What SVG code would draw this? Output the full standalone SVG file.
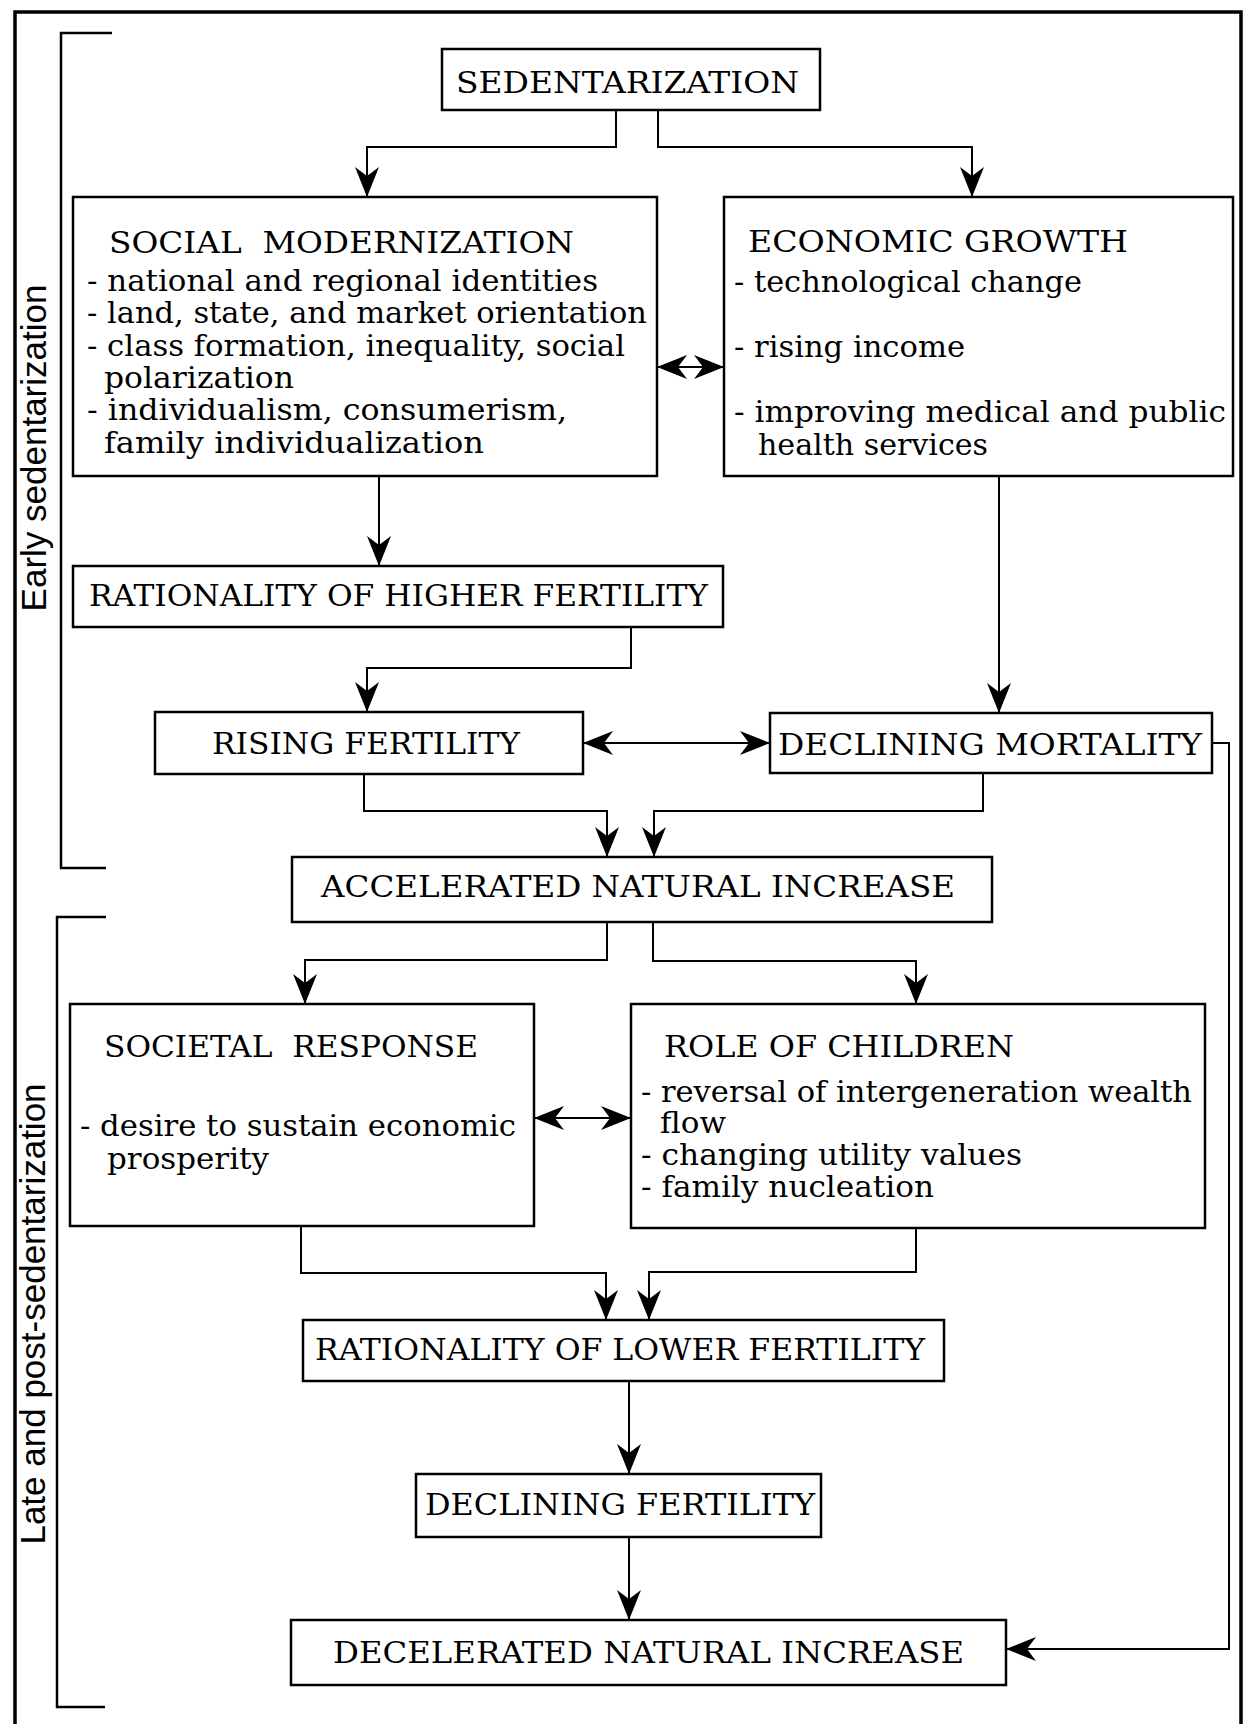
<svg xmlns="http://www.w3.org/2000/svg" width="1249" height="1724" viewBox="0 0 1249 1724">
<style>
.box{fill:#fff;stroke:#000;stroke-width:2.5}
.t{font-family:"DejaVu Serif","Liberation Serif",serif;font-size:29px;fill:#000}
.h{font-size:30px}
.c{text-anchor:middle}
.conn{fill:none;stroke:#000;stroke-width:2}
.frame{fill:none;stroke:#000;stroke-width:3.5}
.brk{fill:none;stroke:#000;stroke-width:2.5}
.side{font-family:"Liberation Sans",Arial,sans-serif;font-size:35px;fill:#000;text-anchor:middle}
</style>
<defs>
<marker id="ah" markerUnits="userSpaceOnUse" markerWidth="34" markerHeight="30" viewBox="-32 -15 34 30" refX="0" refY="0" orient="auto-start-reverse">
<path d="M0,0 L-30,-12 L-21,0 L-30,12 Z" fill="#000"/>
</marker>
</defs>
<rect width="1249" height="1724" fill="#fff"/>
<g id="frame">
<path class="frame" d="M15,1724 V12 H1241 V1724"/>
<path class="brk" d="M112,33 H61 V868 H106"/>
<path class="brk" d="M106,917 H57 V1707 H105"/>
<text class="side" transform="translate(46,448) rotate(-90)">Early sedentarization</text>
<text class="side" transform="translate(45,1314) rotate(-90)">Late and post-sedentarization</text>
</g>
<g id="connectors">
<path class="conn" d="M616,110 V147 H367 V197" marker-end="url(#ah)"/>
<path class="conn" d="M658,110 V147 H972 V197" marker-end="url(#ah)"/>
<path class="conn" d="M379,476 V566" marker-end="url(#ah)"/>
<path class="conn" d="M631,627 V668 H367 V712" marker-end="url(#ah)"/>
<path class="conn" d="M999,476 V713" marker-end="url(#ah)"/>
<path class="conn" d="M657,367 H724" marker-start="url(#ah)" marker-end="url(#ah)"/>
<path class="conn" d="M583,743 H770" marker-start="url(#ah)" marker-end="url(#ah)"/>
<path class="conn" d="M364,774 V811 H607 V857" marker-end="url(#ah)"/>
<path class="conn" d="M983,773 V811 H654 V857" marker-end="url(#ah)"/>
<path class="conn" d="M1212,743 H1229 V1649 H1006" marker-end="url(#ah)"/>
<path class="conn" d="M607,922 V960 H305 V1004" marker-end="url(#ah)"/>
<path class="conn" d="M653,922 V961 H916 V1004" marker-end="url(#ah)"/>
<path class="conn" d="M534,1118 H631" marker-start="url(#ah)" marker-end="url(#ah)"/>
<path class="conn" d="M301,1226 V1273 H606 V1320" marker-end="url(#ah)"/>
<path class="conn" d="M916,1228 V1272 H649 V1320" marker-end="url(#ah)"/>
<path class="conn" d="M629,1381 V1474" marker-end="url(#ah)"/>
<path class="conn" d="M629,1537 V1620" marker-end="url(#ah)"/>
</g>
<g id="sedentarization">
<rect class="box" x="442" y="49" width="378" height="61"/>
<text class="t h" x="456" y="93" textLength="343" lengthAdjust="spacingAndGlyphs">SEDENTARIZATION</text>
</g>
<g id="social-modernization">
<rect class="box" x="73" y="197" width="584" height="279"/>
<text class="t h" x="109" y="253" xml:space="preserve" textLength="465" lengthAdjust="spacingAndGlyphs">SOCIAL  MODERNIZATION</text>
<text class="t" x="87" y="291" textLength="511" lengthAdjust="spacingAndGlyphs">- national and regional identities</text>
<text class="t" x="87" y="323" textLength="560" lengthAdjust="spacingAndGlyphs">- land, state, and market orientation</text>
<text class="t" x="87" y="356" textLength="538" lengthAdjust="spacingAndGlyphs">- class formation, inequality, social</text>
<text class="t" x="104" y="388" textLength="190" lengthAdjust="spacingAndGlyphs">polarization</text>
<text class="t" x="87" y="420" textLength="480" lengthAdjust="spacingAndGlyphs">- individualism, consumerism,</text>
<text class="t" x="104" y="453" textLength="380" lengthAdjust="spacingAndGlyphs">family individualization</text>
</g>
<g id="economic-growth">
<rect class="box" x="724" y="197" width="509" height="279"/>
<text class="t h" x="748" y="252" textLength="380" lengthAdjust="spacingAndGlyphs">ECONOMIC GROWTH</text>
<text class="t" x="734" y="292" textLength="348" lengthAdjust="spacingAndGlyphs">- technological change</text>
<text class="t" x="734" y="357" textLength="231" lengthAdjust="spacingAndGlyphs">- rising income</text>
<text class="t" x="734" y="422" textLength="492" lengthAdjust="spacingAndGlyphs">- improving medical and public</text>
<text class="t" x="758" y="455" textLength="230" lengthAdjust="spacingAndGlyphs">health services</text>
</g>
<g id="rationality-higher">
<rect class="box" x="73" y="566" width="650" height="61"/>
<text class="t h" x="89" y="606" textLength="619" lengthAdjust="spacingAndGlyphs">RATIONALITY OF HIGHER FERTILITY</text>
</g>
<g id="rising-fertility">
<rect class="box" x="155" y="712" width="428" height="62"/>
<text class="t h" x="212" y="754" textLength="308" lengthAdjust="spacingAndGlyphs">RISING FERTILITY</text>
</g>
<g id="declining-mortality">
<rect class="box" x="770" y="713" width="442" height="60"/>
<text class="t h" x="778" y="755" textLength="424" lengthAdjust="spacingAndGlyphs">DECLINING MORTALITY</text>
</g>
<g id="accelerated">
<rect class="box" x="292" y="857" width="700" height="65"/>
<text class="t h" x="321" y="897" textLength="634" lengthAdjust="spacingAndGlyphs">ACCELERATED NATURAL INCREASE</text>
</g>
<g id="societal-response">
<rect class="box" x="70" y="1004" width="464" height="222"/>
<text class="t h" x="104" y="1057" xml:space="preserve" textLength="374" lengthAdjust="spacingAndGlyphs">SOCIETAL  RESPONSE</text>
<text class="t" x="80" y="1136" textLength="436" lengthAdjust="spacingAndGlyphs">- desire to sustain economic</text>
<text class="t" x="107" y="1169" textLength="162" lengthAdjust="spacingAndGlyphs">prosperity</text>
</g>
<g id="role-of-children">
<rect class="box" x="631" y="1004" width="574" height="224"/>
<text class="t h" x="664" y="1057" textLength="350" lengthAdjust="spacingAndGlyphs">ROLE OF CHILDREN</text>
<text class="t" x="641" y="1102" textLength="551" lengthAdjust="spacingAndGlyphs">- reversal of intergeneration wealth</text>
<text class="t" x="660" y="1133" textLength="66" lengthAdjust="spacingAndGlyphs">flow</text>
<text class="t" x="641" y="1165" textLength="381" lengthAdjust="spacingAndGlyphs">- changing utility values</text>
<text class="t" x="641" y="1197" textLength="293" lengthAdjust="spacingAndGlyphs">- family nucleation</text>
</g>
<g id="rationality-lower">
<rect class="box" x="303" y="1320" width="641" height="61"/>
<text class="t h" x="315" y="1360" textLength="610" lengthAdjust="spacingAndGlyphs">RATIONALITY OF LOWER FERTILITY</text>
</g>
<g id="declining-fertility">
<rect class="box" x="416" y="1474" width="405" height="63"/>
<text class="t h" x="425" y="1515" textLength="390" lengthAdjust="spacingAndGlyphs">DECLINING FERTILITY</text>
</g>
<g id="decelerated">
<rect class="box" x="291" y="1620" width="715" height="65"/>
<text class="t h" x="333" y="1663" textLength="631" lengthAdjust="spacingAndGlyphs">DECELERATED NATURAL INCREASE</text>
</g>
</svg>
